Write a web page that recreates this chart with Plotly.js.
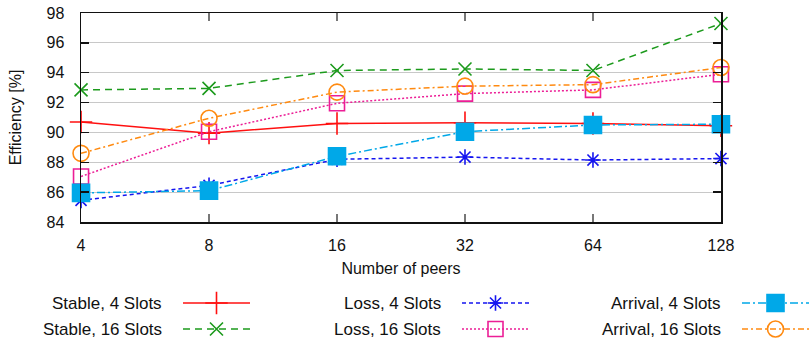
<!DOCTYPE html>
<html>
<head>
<meta charset="utf-8">
<script src="https://cdn.plot.ly/plotly-3.0.1.min.js"></script>
<style>html,body{margin:0;padding:0;background:#fff;}#chart{width:810px;height:339px;}</style>
</head>
<body>
<div id="chart"></div>
<script>
const peers = [4, 8, 16, 32, 64, 128];
const stable4  = [90.7, 89.95, 90.6, 90.65, 90.6, 90.45];
const stable16 = [92.85, 92.95, 94.15, 94.25, 94.15, 97.3];
const loss4    = [85.45, 86.45, 88.2, 88.35, 88.15, 88.25];
const loss16   = [87.05, 90.05, 91.95, 92.6, 92.85, 93.9];
const arrival4 = [85.95, 86.1, 88.4, 90.05, 90.5, 90.55];
const arrival16= [88.6, 90.95, 92.7, 93.1, 93.2, 94.35];
const seriesNames = ["Stable, 4 Slots", "Stable, 16 Slots", "Loss, 4 Slots", "Loss, 16 Slots", "Arrival, 4 Slots", "Arrival, 16 Slots"];
const yTicks = [84, 86, 88, 90, 92, 94, 96, 98];

const seriesData = [stable4, stable16, loss4, loss16, arrival4, arrival16];
const styles = [
  {color: '#ff1010', dash: 'solid', symbol: 'cross-thin-open', size: 16},
  {color: '#1c9a1c', dash: '7px,5px', symbol: 'x-thin-open', size: 13},
  {color: '#1515f0', dash: '4px,3px', symbol: 'asterisk-open', size: 13},
  {color: '#ec1e96', dash: '2px,2px', symbol: 'square-open', size: 15},
  {color: '#00a8e8', dash: '8px,3px,2px,3px', symbol: 'square', size: 17},
  {color: '#ff8a10', dash: '6px,3px,2px,3px', symbol: 'circle-open', size: 16}
];

const FONT = 'Liberation Sans, Arial, sans-serif';
const traces = [];
seriesData.forEach((ys, i) => {
  const s = styles[i];
  traces.push({
    x: peers, y: ys, type: 'scatter', mode: 'lines+markers', name: seriesNames[i],
    xaxis: 'x', yaxis: 'y', cliponaxis: false,
    line: {color: s.color, width: 1.5, dash: s.dash},
    marker: {symbol: s.symbol, size: s.size, color: s.color, line: {color: s.color, width: 1.6}}
  });
});

// Legend drawn manually: text right-aligned, sample line to its right
const legendTextRight = [164, 443, 723];
const legendRows = [303, 329];
const sampleGap = 19, sampleLen = 67;
const annotations = [];
seriesNames.forEach((name, i) => {
  const col = Math.floor(i / 2), row = i % 2;
  const s = styles[i];
  const x0 = legendTextRight[col] + sampleGap;
  const y0 = legendRows[row];
  traces.push({
    x: [x0, x0 + sampleLen], y: [y0, y0], type: 'scatter', mode: 'lines',
    xaxis: 'x2', yaxis: 'y2', showlegend: false, hoverinfo: 'skip', cliponaxis: false,
    line: {color: s.color, width: 1.5, dash: s.dash}
  });
  traces.push({
    x: [x0 + sampleLen / 2], y: [y0], type: 'scatter', mode: 'markers',
    xaxis: 'x2', yaxis: 'y2', showlegend: false, hoverinfo: 'skip', cliponaxis: false,
    marker: {symbol: s.symbol, size: s.size, color: s.color, line: {color: s.color, width: 1.6}}
  });
  annotations.push({
    xref: 'x2', yref: 'y2', x: legendTextRight[col], y: y0, text: name,
    xanchor: 'right', yanchor: 'middle', showarrow: false,
    font: {family: FONT, size: 17, color: '#111'}
  });
});

const W = 810, H = 339;
const eps = 1e-4;
const layout = {
  width: W, height: H,
  margin: {l: 0, r: 0, t: 0, b: 0},
  paper_bgcolor: '#fff', plot_bgcolor: 'rgba(0,0,0,0)',
  showlegend: false,
  font: {family: FONT, size: 16, color: '#111'},
  xaxis: {
    type: 'log', domain: [81 / W, 721 / W],
    range: [Math.log10(4) - eps, Math.log10(128) + eps],
    tickmode: 'array', tickvals: peers, ticktext: peers.map(String),
    showgrid: false, zeroline: false,
    showline: true, linecolor: '#111', linewidth: 1.5, mirror: 'ticks',
    ticks: 'inside', ticklen: 8, tickwidth: 1.5, tickcolor: '#777',
    ticklabelstandoff: 8,
    tickfont: {family: FONT, size: 16, color: '#111'},
    title: {text: 'Number of peers', font: {family: FONT, size: 16, color: '#111'}, standoff: 10},
    automargin: false
  },
  yaxis: {
    domain: [1 - 222 / H, 1 - 13 / H],
    range: [84, 98],
    tickmode: 'array', tickvals: yTicks, ticktext: yTicks.map(String),
    showgrid: true, gridcolor: '#c8c8c8', gridwidth: 1, zeroline: false,
    showline: true, linecolor: '#111', linewidth: 1.5, mirror: 'ticks',
    ticks: 'inside', ticklen: 8, tickwidth: 1.5, tickcolor: '#111',
    ticklabelstandoff: 12,
    tickfont: {family: FONT, size: 16, color: '#111'},
    title: {text: 'Efficiency [%]', font: {family: FONT, size: 16, color: '#111'}, standoff: 21},
    automargin: false
  },
  xaxis2: {domain: [0, 1], range: [0, W], visible: false, fixedrange: true, anchor: 'y2', showgrid: false},
  yaxis2: {domain: [0, 1], range: [H, 0], visible: false, fixedrange: true, anchor: 'x2', showgrid: false},
  annotations: annotations
};

Plotly.newPlot('chart', traces, layout, {staticPlot: true, displayModeBar: false});
</script>
</body>
</html>
